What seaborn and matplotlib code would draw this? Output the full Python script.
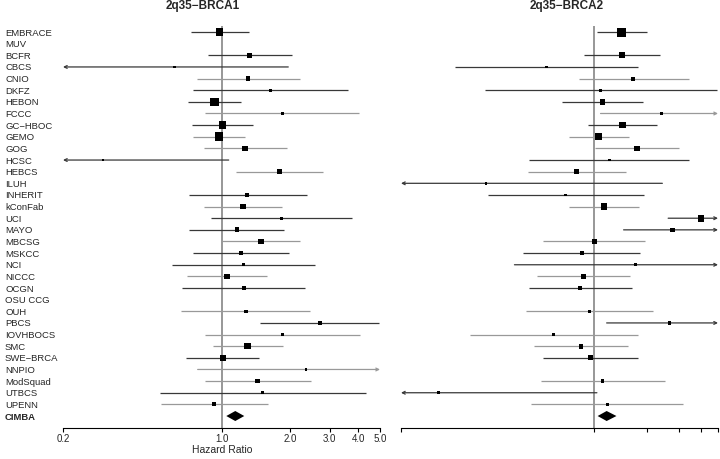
import numpy as np
import pandas as pd
import matplotlib
matplotlib.use("Agg")
import matplotlib.pyplot as plt
import seaborn as sns
from matplotlib.transforms import blended_transform_factory

nan = np.nan

studies = ["EMBRACE", "MUV", "BCFR", "CBCS", "CNIO", "DKFZ", "HEBON", "FCCC",
           "GC\u2212HBOC", "GEMO", "GOG", "HCSC", "HEBCS", "ILUH", "INHERIT",
           "kConFab", "UCI", "MAYO", "MBCSG", "MSKCC", "NCI", "NICCC", "OCGN",
           "OSU CCG", "OUH", "PBCS", "IOVHBOCS", "SMC", "SWE\u2212BRCA", "NNPIO",
           "ModSquad", "UTBCS", "UPENN"]

# 2q35 - BRCA1 hazard ratios and 95% CI
b1_hr = [0.98, nan, 1.33, 0.62, 1.31, 1.64, 0.93, 1.85, 1.01, 0.975, 1.27, 0.30,
         1.80, nan, 1.30, 1.24, 1.84, 1.17, 1.49, 1.22, 1.25, 1.06, 1.26, nan,
         1.28, 2.71, 1.85, 1.30, 1.015, 2.36, 1.44, 1.52, 0.93]
b1_lo = [0.73, nan, 0.87, 0.19, 0.78, 0.75, 0.71, 0.85, 0.74, 0.75, 0.835, 0.082,
         1.155, nan, 0.717, 0.835, 0.90, 0.72, 0.99, 0.746, 0.603, 0.707, 0.67, nan,
         0.663, 1.48, 0.846, 0.915, 0.70, 0.785, 0.846, 0.534, 0.543]
b1_hi = [1.32, nan, 2.05, 1.97, 2.21, 3.60, 1.22, 4.05, 1.37, 1.265, 1.94, 1.076,
         2.80, nan, 2.38, 1.84, 3.77, 1.88, 2.23, 1.99, 2.59, 1.58, 2.34, nan,
         2.45, 4.95, 4.07, 1.87, 1.46, 7.1, 2.47, 4.32, 1.60]

# 2q35 - BRCA2 hazard ratios and 95% CI
b2_hr = [1.43, nan, 1.44, 0.54, 1.67, 1.09, 1.12, 2.40, 1.45, 1.06, 1.75, 1.22,
         0.80, 0.247, 0.696, 1.14, 4.01, 2.77, 1.01, 0.853, 1.71, 0.875, 0.838, nan,
         0.946, 2.66, 0.593, 0.845, 0.953, nan, 1.12, 0.133, 1.19]
b2_lo = [1.035, nan, 0.88, 0.166, 0.82, 0.245, 0.66, 1.09, 0.925, 0.72, 1.02, 0.43,
         0.424, 0.025, 0.254, 0.724, 2.62, 1.47, 0.52, 0.40, 0.357, 0.48, 0.43, nan,
         0.413, 1.18, 0.20, 0.46, 0.517, nan, 0.504, 0.017, 0.444]
b2_hi = [1.98, nan, 2.37, 1.77, 3.42, 4.91, 1.90, 5.3, 2.26, 1.57, 3.01, 3.45,
         1.51, 2.43, 1.92, 1.80, 6.14, 5.22, 1.95, 1.81, 8.2, 1.60, 1.64, nan,
         2.16, 6.0, 1.77, 1.55, 1.77, nan, 2.50, 1.04, 3.17]

# pooled CIMBA estimates (hr, lo, hi)
cimba_b1 = [1.15, 1.05, 1.26]
cimba_b2 = [1.18, 1.05, 1.34]

tick_vals = [0.2, 1.0, 2.0, 3.0, 4.0, 5.0]
tick_labels = ["0.2", "1.0", "2.0", "3.0", "4.0", "5.0"]

# line shade per study: d = dark, l = light
line_shade = ["d", "d", "d", "d", "l", "d", "d", "l", "d", "l", "l", "d", "l", "d",
              "d", "l", "d", "d", "l", "d", "d", "l", "d", "d", "l", "d", "l", "l",
              "d", "l", "l", "d", "l"]
shade_colors = {"d": "#383838", "l": "#999999"}

sns.set_style("white")
plt.rcParams["font.family"] = ["Liberation Sans", "DejaVu Sans"]

W, H = 720, 460
fig = plt.figure(figsize=(7.2, 4.6), dpi=100)

n_rows = len(studies) + 1
ylim = (n_rows - 1 + 1.03, -0.52)
ax_bottom = 1 - 429 / H
ax_height = (429 - 27) / H

ax1 = fig.add_axes([63 / W, ax_bottom, 317 / W, ax_height])
ax2 = fig.add_axes([401 / W, ax_bottom, 317 / W, ax_height])

panels = [
    (ax1, b1_hr, b1_lo, b1_hi, cimba_b1, (0.2, 5.0), "2q35\u2212BRCA1", 203),
    (ax2, b2_hr, b2_lo, b2_hi, cimba_b2, (0.082, 5.0), "2q35\u2212BRCA2", 567),
]

K = 447.0  # box side (px) times CI width (px)

for ax, hr, lo, hi, pooled, xl, title, tx in panels:
    ax.set_xscale("log")
    ax.set_xlim(*xl)
    ax.set_ylim(*ylim)
    ppd = 317 / (np.log10(xl[1]) - np.log10(xl[0]))

    ax.axvline(1.0, color="#7a7a7a", lw=1.1, zorder=1)

    df = pd.DataFrame({"row": np.arange(len(studies)), "hr": hr, "lo": lo, "hi": hi,
                       "shade": line_shade}).dropna()
    for _, r in df.iterrows():
        c = shade_colors[r["shade"]]
        lo_c = max(r["lo"], xl[0])
        hi_c = min(r["hi"], xl[1])
        if r["lo"] < xl[0]:
            ax.annotate("", xy=(xl[0], r["row"]), xytext=(hi_c, r["row"]),
                        arrowprops=dict(arrowstyle="->", color=c, lw=0.9,
                                        mutation_scale=5, shrinkA=0, shrinkB=0))
        elif r["hi"] > xl[1]:
            ax.annotate("", xy=(xl[1], r["row"]), xytext=(lo_c, r["row"]),
                        arrowprops=dict(arrowstyle="->", color=c, lw=0.9,
                                        mutation_scale=5, shrinkA=0, shrinkB=0))
        else:
            ax.hlines(r["row"], lo_c, hi_c, color=c, lw=0.9, zorder=2)

    side_px = np.maximum(K / (np.log10(df["hi"] / df["lo"]) * ppd), 2.6)
    sizes = (side_px * 0.72) ** 2
    sns.scatterplot(data=df, x="hr", y="row", marker="s", s=sizes.values,
                    color="black", linewidth=0, ax=ax, zorder=3, legend=False)

    # pooled diamond
    yc = n_rows - 1
    hh = 0.43
    ax.fill([pooled[1], pooled[0], pooled[2], pooled[0]],
            [yc, yc - hh, yc, yc + hh], color="black", lw=0, zorder=3)

    for s in ["left", "right", "top"]:
        ax.spines[s].set_visible(False)
    ax.spines["bottom"].set_color("black")
    ax.spines["bottom"].set_linewidth(0.8)
    ax.set_yticks([])
    ax.set_xlabel("")
    ax.set_ylabel("")
    ax.minorticks_off()
    ax.tick_params(axis="x", direction="out", length=3, width=0.8, color="black",
                   labelsize=7, pad=0.5, bottom=True)

    fig.text(tx / W, 1 - 6.5 / H, title, ha="center", va="center",
             fontsize=8.5, fontweight="bold")

ax1.set_xticks(tick_vals)
ax1.set_xticklabels(tick_labels)
ax2.set_xticks([0.082] + tick_vals[1:])
ax2.set_xticklabels([""] * len(tick_vals))
fig.text(222 / W, 1 - 450 / H, "Hazard Ratio", ha="center", va="center",
         fontsize=7.5)

trans = blended_transform_factory(fig.transFigure, ax1.transData)
for i, name in enumerate(studies + ["CIMBA"]):
    ax1.text(5 / W, i, name, transform=trans, ha="left", va="center",
             fontsize=6.8, fontweight="bold" if name == "CIMBA" else "normal",
             clip_on=False)

fig.savefig("out.png", dpi=100)
